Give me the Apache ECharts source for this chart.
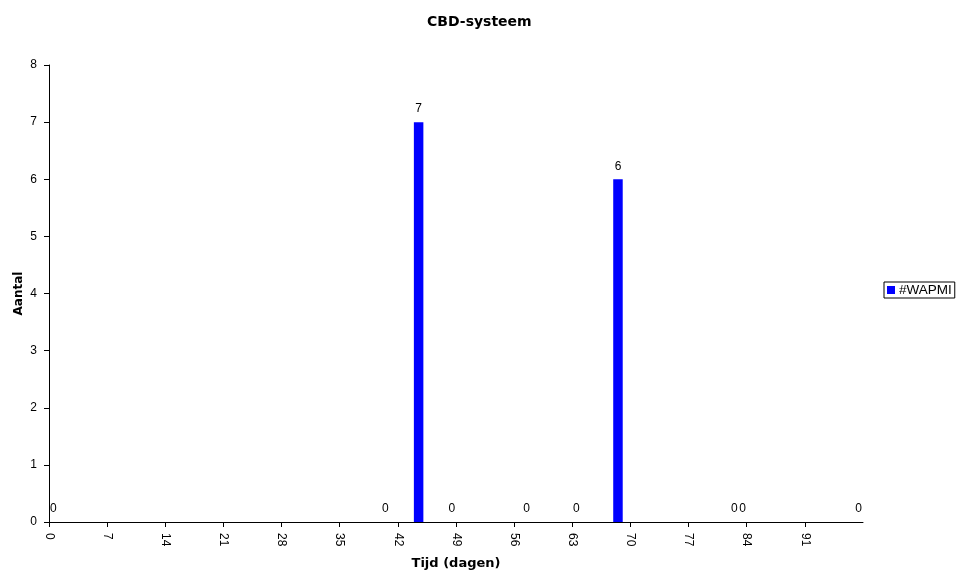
<!DOCTYPE html>
<html>
<head>
<meta charset="utf-8">
<title>CBD-systeem</title>
<script src="https://cdn.jsdelivr.net/npm/echarts@6/dist/echarts.min.js"></script>
<style>
  html, body { margin: 0; padding: 0; background: #ffffff; }
  #chart { width: 969px; height: 571px; }
</style>
</head>
<body>
<div id="chart"></div>
<script>
// Day buckets on the category axis (0 .. 97)
const dayCount = 98;
const days = Array.from({ length: dayCount }, (_, i) => i);

// Days that carry a labelled value, and the #WAPMI count on each of them
const labelledDays = [0, 40, 44, 48, 57, 63, 68, 82, 83, 97];
const wapmiCounts = [0, 0, 7, 0, 0, 0, 6, 0, 0, 0];

// Tick labels for the day scale and the count scale
const dayTicks = [0, 7, 14, 21, 28, 35, 42, 49, 56, 63, 70, 77, 84, 91];
const countTicks = [0, 1, 2, 3, 4, 5, 6, 7, 8];

const seriesName = '#WAPMI';

// One entry per day; days without a recorded value stay empty
const wapmiSeries = days.map(d => {
  const k = labelledDays.indexOf(d);
  return k >= 0 ? wapmiCounts[k] : '-';
});

const sans = '"Liberation Sans", Arial, sans-serif';
const bold = '"DejaVu Sans", Verdana, sans-serif';

const chart = echarts.init(document.getElementById('chart'), null, { renderer: 'canvas' });

chart.setOption({
  animation: false,
  backgroundColor: '#ffffff',
  title: {
    text: 'CBD-systeem',
    left: 422,
    top: 10,
    textStyle: { fontFamily: bold, fontWeight: 'bold', fontSize: 14, color: '#000000' }
  },
  legend: {
    data: [seriesName],
    left: 884,
    top: 282,
    orient: 'vertical',
    padding: [1, 3, 1, 3],
    itemWidth: 8,
    itemHeight: 8,
    icon: 'rect',
    borderColor: '#000000',
    borderWidth: 1,
    borderRadius: 0,
    textStyle: { fontFamily: sans, fontSize: 13.5, color: '#000000', padding: [0, 0, 0, -1] }
  },
  grid: { left: 49, right: 106, top: 65, bottom: 49, containLabel: false, outerBoundsMode: 'none' },
  xAxis: [
    {
      type: 'category',
      data: days,
      boundaryGap: true,
      show: false,
      position: 'bottom'
    },
    {
      type: 'value',
      position: 'bottom',
      min: 0,
      max: dayCount,
      interval: 7,
      name: 'Tijd (dagen)',
      nameLocation: 'middle',
      nameGap: 35,
      nameMoveOverlap: false,
      nameTextStyle: { fontFamily: bold, fontWeight: 'bold', fontSize: 13, color: '#000000' },
      axisLine: { show: true, lineStyle: { color: '#000000', width: 1 } },
      axisTick: { show: true, inside: false, length: 5, lineStyle: { color: '#000000' } },
      axisLabel: {
        rotate: -90,
        margin: 11,
        fontFamily: sans,
        fontSize: 12,
        color: '#000000',
        showMaxLabel: false,
        formatter: v => (dayTicks.includes(v) ? String(v) : '')
      },
      splitLine: { show: false }
    }
  ],
  yAxis: {
    type: 'value',
    min: countTicks[0],
    max: countTicks[countTicks.length - 1],
    interval: 1,
    name: 'Aantal',
    nameLocation: 'middle',
    nameGap: 24,
    nameMoveOverlap: false,
    nameTextStyle: { fontFamily: bold, fontWeight: 'bold', fontSize: 12, color: '#000000' },
    axisLine: { show: true, lineStyle: { color: '#000000', width: 1 } },
    axisTick: { show: true, inside: false, length: 5, lineStyle: { color: '#000000' } },
    axisLabel: {
      margin: 12,
      fontFamily: sans,
      fontSize: 12,
      color: '#000000',
      formatter: v => (countTicks.includes(v) ? String(v) : '')
    },
    splitLine: { show: false }
  },
  series: [
    {
      name: seriesName,
      type: 'bar',
      xAxisIndex: 0,
      yAxisIndex: 0,
      data: wapmiSeries,
      barWidth: 9.5,
      itemStyle: { color: '#0000ff' },
      label: {
        show: true,
        position: 'top',
        distance: 7,
        fontFamily: sans,
        fontSize: 12,
        color: '#000000'
      }
    }
  ]
});
</script>
</body>
</html>
